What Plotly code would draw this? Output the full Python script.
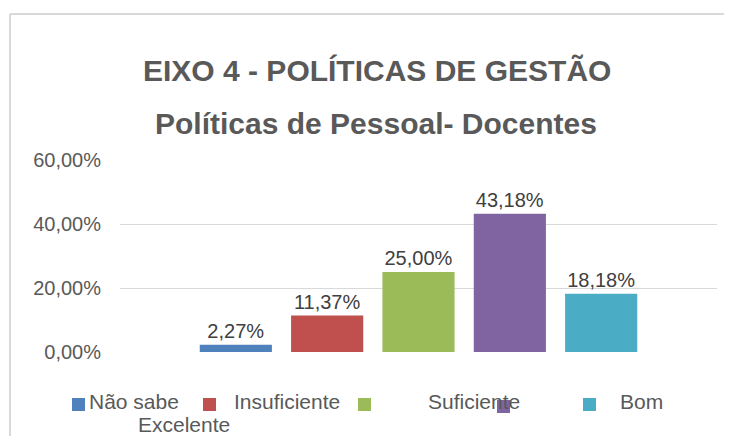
import plotly.graph_objects as go

# ---- data ----
categories = ["Não sabe", "Insuficiente", "Suficiente", "Bom", "Excelente"]
values = [2.27, 11.37, 25.00, 43.18, 18.18]
colors = ["#4F81BD", "#C0504D", "#9BBB59", "#8064A2", "#4BACC6"]
group_label = ["Políticas de Pessoal- Docentes"]
title_line1 = "EIXO 4 - POLÍTICAS DE GESTÃO"
title_line2 = "Políticas de Pessoal- Docentes"

# the page body has an 8px margin: work in window pixels, convert to figure pixels
OFF = 8
WIN_W, WIN_H = 732, 436
W, H = WIN_W - OFF, WIN_H - OFF
# plot area in window pixels: x 120..717, y 160..352
ML, MR, MT, MB = 120 - OFF, WIN_W - 717, 160 - OFF, WIN_H - 352
PW, PH = W - ML - MR, H - MT - MB
FONT = "Liberation Sans, Arial, sans-serif"


def px(x):
    return (x - OFF - ML) / PW


def py(y):
    return (H - MB - (y - OFF)) / PH


fig = go.Figure()
for name, v, c in zip(categories, values, colors):
    fig.add_trace(go.Bar(
        x=group_label, y=[v], name=name, marker_color=c,
        marker_line_width=0,
        text=[v], texttemplate="%{y:.2f}%", textposition="outside",
        textfont=dict(family=FONT, size=20, color="#404040"),
        cliponaxis=False, showlegend=False,
    ))

annotations = [
    dict(text="<b>" + title_line1 + "</b>", x=px(377), y=py(71), xref="paper", yref="paper",
         xanchor="center", yanchor="middle", showarrow=False,
         font=dict(family=FONT, size=30, color="#595959")),
    dict(text="<b>" + title_line2 + "</b>", x=px(376), y=py(123), xref="paper", yref="paper",
         xanchor="center", yanchor="middle", showarrow=False,
         font=dict(family=FONT, size=30, color="#595959")),
]

# legend (reproducing the reference's misaligned legend layout)
marker_px = [(72, 398), (203, 398), (358, 398), (497, 400), (583, 398)]
label_px = [(87, 401), (232, 401), (426, 401), (618, 401), (136, 424)]
shapes = []
for (mx, my), c in zip(marker_px, colors):
    shapes.append(dict(type="rect", xref="paper", yref="paper",
                       x0=px(mx), x1=px(mx + 13), y0=py(my), y1=py(my + 13),
                       fillcolor=c, line=dict(width=0)))
for (lx, ly), name in zip(label_px, categories):
    annotations.append(dict(text=name, x=px(lx), y=py(ly), xref="paper", yref="paper",
                            xanchor="left", yanchor="middle", showarrow=False,
                            font=dict(family=FONT, size=21, color="#595959")))

# chart frame (top and left edges visible in the reference)
frame = dict(color="#D9D9D9", width=2)
shapes.append(dict(type="line", xref="paper", yref="paper", layer="below",
                   x0=px(10), x1=px(740), y0=py(14), y1=py(14), line=frame))
shapes.append(dict(type="line", xref="paper", yref="paper", layer="below",
                   x0=px(10), x1=px(10), y0=py(14), y1=py(445), line=frame))

fig.update_layout(
    width=W, height=H,
    margin=dict(l=ML, r=MR, t=MT, b=MB, pad=0),
    paper_bgcolor="white", plot_bgcolor="white",
    separators=",.",
    barmode="group", bargap=0.235, bargroupgap=0.21,
    showlegend=False,
    annotations=annotations, shapes=shapes,
    font=dict(family=FONT, color="#595959"),
)
fig.update_xaxes(showticklabels=False, showgrid=False, zeroline=False, showline=False)
fig.update_yaxes(range=[0, 60], dtick=20, tickformat=".2f", ticksuffix="%",
                 showgrid=True, gridcolor="#D9D9D9", gridwidth=1,
                 zeroline=False, showline=False, ticklabelstandoff=18,
                 tickfont=dict(family=FONT, size=20, color="#595959"))

fig.write_html("out.html")
